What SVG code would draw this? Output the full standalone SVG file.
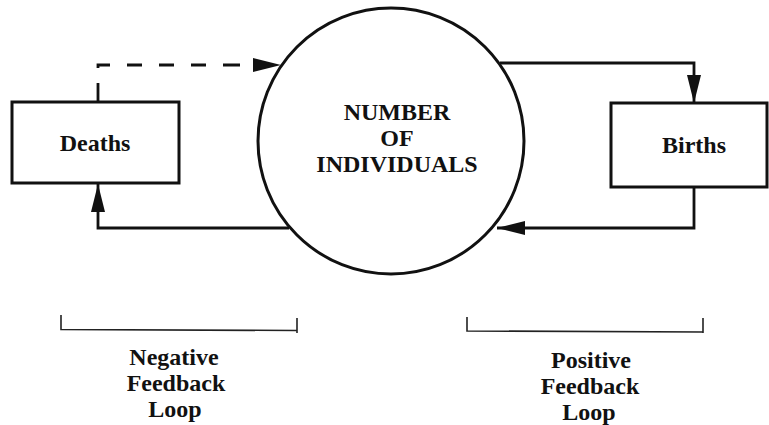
<svg xmlns="http://www.w3.org/2000/svg" width="769" height="425" viewBox="0 0 769 425">
<style>
.node{fill:#fff;stroke:#111;stroke-width:3}
.lbl{font-family:"Liberation Serif","Times New Roman",serif;font-weight:bold;font-size:24px;fill:#111;text-anchor:middle}
.conn{fill:none;stroke:#111;stroke-width:2.8}
.br{fill:none;stroke:#222;stroke-width:1.6}
</style>
<defs>
<marker id="ah" markerUnits="userSpaceOnUse" markerWidth="28" markerHeight="14" refX="28" refY="7" orient="auto" viewBox="0 0 28 14">
<path d="M0,0 L28,7 L0,14 z" fill="#111"/>
</marker>
</defs>
<rect width="769" height="425" fill="#fff"/>
<g id="connectors">
<path class="conn" d="M98,102 V65 H281" stroke-dasharray="19 15 15 17 15 17 15 17 15 17 17 100" marker-end="url(#ah)"/>
<path class="conn" d="M500,63 H694 V103" marker-end="url(#ah)"/>
<path class="conn" d="M694,187 V228 H497" marker-end="url(#ah)"/>
<path class="conn" d="M289,228 H98 V184" marker-end="url(#ah)"/>
</g>
<g id="individuals">
<circle class="node" cx="391" cy="141" r="133"/>
<text class="lbl" x="397" y="120">NUMBER</text>
<text class="lbl" x="397" y="146">OF</text>
<text class="lbl" x="397" y="172">INDIVIDUALS</text>
</g>
<g id="deaths">
<rect class="node" x="12" y="102" width="167" height="81"/>
<text class="lbl" x="95" y="151">Deaths</text>
</g>
<g id="births">
<rect class="node" x="611" y="103" width="156" height="84"/>
<text class="lbl" x="694" y="153">Births</text>
</g>
<g id="negative-loop">
<path class="br" d="M61,315 V329.5 L297,330.5 M297,318 V333"/>
<text class="lbl" x="174" y="365">Negative</text>
<text class="lbl" x="176" y="391">Feedback</text>
<text class="lbl" x="175" y="417">Loop</text>
</g>
<g id="positive-loop">
<path class="br" d="M467,317 V331 L703,332 M703,318 V333"/>
<text class="lbl" x="591" y="368">Positive</text>
<text class="lbl" x="590" y="394">Feedback</text>
<text class="lbl" x="589" y="420">Loop</text>
</g>
</svg>
